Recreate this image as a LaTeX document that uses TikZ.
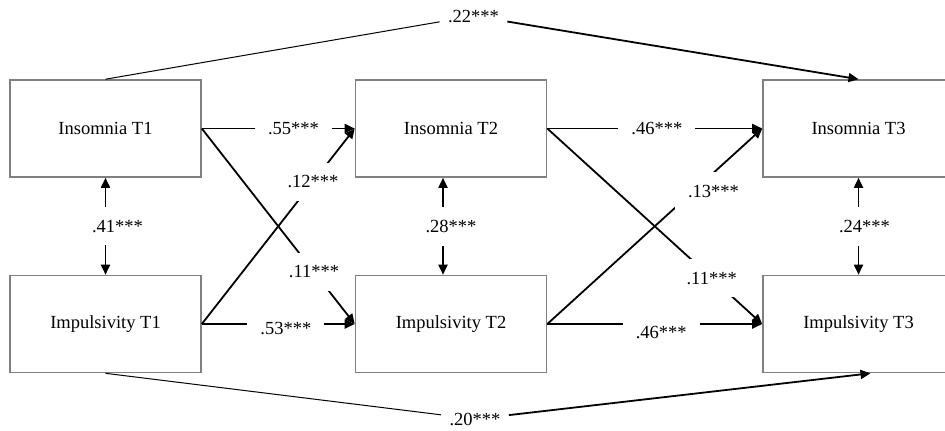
\documentclass[tikz,border=0pt]{standalone}
\usepackage{fontspec}
\setmainfont{Liberation Serif}
\usetikzlibrary{arrows.meta,positioning,calc}

\begin{document}
\begin{tikzpicture}[x=0.5pt,y=-0.5pt,
  varbox/.style={draw=black!50,line width=0.8pt,minimum width=95.5pt,minimum height=48.5pt,
    inner sep=0pt,font=\fontsize{9.25}{11}\selectfont},
  coef/.style={fill=white,inner sep=6.5pt,font=\fontsize{9.25}{11}\selectfont},
  path/.style={line width=0.9pt,-{Triangle[length=5pt,width=4.5pt]}},
  covpath/.style={line width=0.9pt,{Triangle[length=5pt,width=4.5pt]}-{Triangle[length=5pt,width=4.5pt]}}
]
  \useasboundingbox (0,0) rectangle (945,430);

  % variables at three waves
  \node[varbox] (ins1) at (105.5,128.5) {Insomnia T1};
  \node[varbox] (ins2) at (451,128.5) {Insomnia T2};
  \node[varbox] (ins3) at (858.5,128.5) {Insomnia T3};
  \node[varbox] (imp1) at (105.5,324) {Impulsivity T1};
  \node[varbox] (imp2) at (451,324) {Impulsivity T2};
  \node[varbox] (imp3) at (858.5,324) {Impulsivity T3};

  % autoregressive paths
  \draw[path] (ins1.east) -- node[coef,pos=0.6] {.55***} (ins2.west);
  \draw[path] (imp1.east) -- node[coef,pos=0.55,yshift=-2pt] {.53***} (imp2.west);
  \draw[path] (ins2.east) -- node[coef,pos=0.51] {.46***} (ins3.west);
  \draw[path] (imp2.east) -- node[coef,pos=0.53,yshift=-4pt] {.46***} (imp3.west);

  % cross-lagged paths
  \draw[path] (imp1.east) -- node[coef,pos=0.727] {.12***} (ins2.west);
  \draw[path] (ins1.east) -- node[coef,pos=0.734] {.11***} (imp2.west);
  \draw[path] (imp2.east) -- node[coef,pos=0.68,xshift=10pt] {.13***} (ins3.west);
  \draw[path] (ins2.east) -- node[coef,pos=0.765] {.11***} (imp3.west);

  % within-wave covariances
  \draw[covpath] (ins1.south) -- node[coef,midway,xshift=6pt] {.41***} (imp1.north);
  \draw[covpath] ([xshift=-4pt]ins2.south) -- node[coef,midway,xshift=4pt] {.28***} ([xshift=-4pt]imp2.north);
  \draw[covpath] (ins3.south) -- node[coef,midway,xshift=3pt] {.24***} (imp3.north);

  % T1 -> T3 paths
  \node[coef,inner sep=4pt] (l22) at (473.5,16) {.22***};
  \draw[line width=0.5pt] (ins1.north) -- (l22);
  \draw[path] (l22) -- (ins3.north);
  \node[coef,inner sep=4pt] (l20) at (475,419) {.20***};
  \draw[line width=0.5pt] (imp1.south) -- (l20);
  \draw[path] (l20) -- ([xshift=6pt]imp3.south);
\end{tikzpicture}
\end{document}
